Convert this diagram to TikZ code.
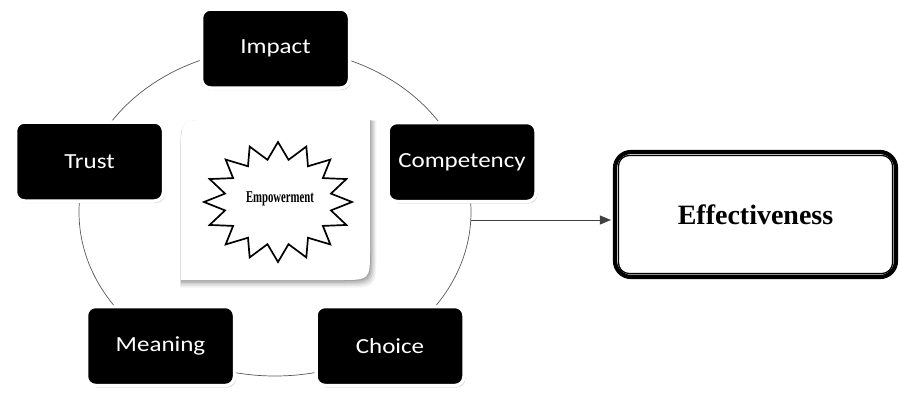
\documentclass[tikz,border=0pt]{standalone}
\usepackage{fontspec}
\setmainfont{Liberation Serif}
\newfontfamily\carlito{Carlito}
\usetikzlibrary{arrows.meta,shadows}
\tikzset{
  cyclebox/.style={rounded corners=9pt, fill=black, draw=white, line width=3.5pt,
    minimum width=148pt, minimum height=79pt, inner sep=0pt, text=white,
    font=\carlito\fontsize{25}{25}\selectfont,
    drop shadow={shadow xshift=1.5pt, shadow yshift=-2pt, fill=black!40, opacity=0.45}},
  ring/.style={draw=black!65, line width=0.7pt},
  starline/.style={draw=black, line width=1.7pt, fill=white, line join=miter, miter limit=10},
  arrowline/.style={draw=black!75, line width=1pt, -{Triangle[length=11pt,width=9pt]}},
  effbox/.style={draw=black, line width=4.2pt, rounded corners=16pt, minimum width=281pt,
    minimum height=125pt, inner sep=0pt, font=\bfseries\fontsize{28}{28}\selectfont},
  effinner/.style={draw=black, line width=1.3pt, rounded corners=11pt},
}
\newcommand{\sq}[1]{\scalebox{1}[0.86]{#1}}
\begin{document}
\begin{tikzpicture}[x=1pt,y=-1pt]
\useasboundingbox[fill=white] (0,0) rectangle (900,394);
% ring
\draw[ring] (275,212) ellipse [x radius=196, y radius=164];
% central leaf box with soft shadow
\foreach \o/\op in {7/0.05,5.5/0.06,4/0.08,2.5/0.1,1/0.12}{
  \fill[black, opacity=\op, shift={(\o*0.4,\o*0.6)}]
    (181-\o*0.5,280+\o*0.5) -- (181-\o*0.5,150) .. controls (181-\o*0.5,120-\o*0.5) .. (211,120-\o*0.5)
    -- (370+\o*0.5,120-\o*0.5) -- (370+\o*0.5,250) .. controls (370+\o*0.5,280+\o*0.5) .. (340,280+\o*0.5) -- cycle;
}
\path[fill=white] (181,280) -- (181,150) .. controls (181,120) .. (211,120)
  -- (370,120) -- (370,250) .. controls (370,280) .. (340,280) -- cycle;
\node[inner sep=0pt, minimum width=189pt, minimum height=160pt] (core) at (275.5,200) {};
% starburst
\begin{scope}[shift={(core.center)}, shift={(2.5pt,-2pt)}]
\draw[starline] (90:74pt and 60pt)
  \foreach \i [evaluate=\i as \rx using {mod(\i,2)==0 ? 74 : 54},
               evaluate=\i as \ry using {mod(\i,2)==0 ? 60 : 43}] in {1,...,31}
  { -- ({90+\i*11.25}:\rx pt and \ry pt) } -- cycle;
\end{scope}
\node[font=\bfseries\fontsize{16.5}{16.5}\selectfont] (emp) at (280,199)
  {\scalebox{0.65}[1]{Empowerment}};
% cycle boxes
\node[cyclebox] (impact) at (275.5,48.5) {\sq{Impact}};
\node[cyclebox] (trust) at (89.5,161.5) {\sq{Trust}};
\node[cyclebox] (comp) at (462,162) {\sq{Competency}};
\node[cyclebox] (meaning) at (160.5,346) {\sq{Meaning}};
\node[cyclebox] (choice) at (390,346) {\sq{Choice}};
% effectiveness
\node[effbox] (eff) at (755.5,214.5) {Effectiveness};
\draw[effinner] ([shift={(5.5pt,5.5pt)}]eff.south west) rectangle ([shift={(-5.5pt,-5.5pt)}]eff.north east);
% arrow
\coordinate (astart) at (471,220);
\draw[arrowline] (astart) -- ([xshift=-2pt]eff.west |- astart);
\end{tikzpicture}
\end{document}
